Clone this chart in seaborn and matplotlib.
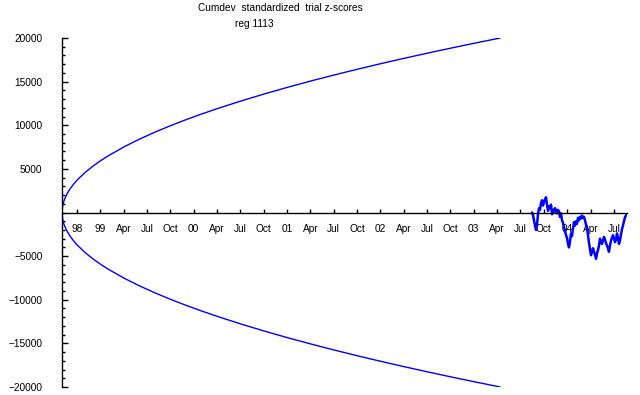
import numpy as np
import pandas as pd
import matplotlib
matplotlib.use("Agg")
import matplotlib.pyplot as plt
import seaborn as sns

# ---- data ----
# x axis: months since Oct 1998 (the "98" tick)
xtick_months = list(range(0, 70, 3))
xtick_labels = ["98", "99", "Apr", "Jul", "Oct", "00", "Apr", "Jul", "Oct",
                "01", "Apr", "Jul", "Oct", "02", "Apr", "Jul", "Oct",
                "03", "Apr", "Jul", "Oct", "04", "Apr", "Jul"]

ytick_values = [-20000, -15000, -10000, -5000, 5000, 10000, 15000, 20000]
ytick_labels = ["−20000", "−15000", "−10000", "−5000", "5000", "10000", "15000", "20000"]

# probability envelope
env_month = [-1.93, -1.83, -1.63, -1.33, -0.93, -0.43, 0.07, 1.07, 2.07, 3.07,
             4.07, 6.07, 8.07, 10.07, 12.07, 14.07, 16.07, 18.07, 21.07, 24.07,
             27.07, 30.07, 33.07, 36.07, 39.07, 42.07, 45.07, 48.07, 51.07, 54.4]
env_upper = [0, 843, 1460, 2064, 2665, 3264, 3769, 4616, 5330, 5959,
             6527, 7537, 8427, 9231, 9971, 10659, 11306, 11917, 12780, 13588,
             14351, 15075, 15765, 16427, 17063, 17676, 18269, 18843, 19400, 20000]
env_lower = [0, -843, -1460, -2064, -2665, -3264, -3769, -4616, -5330, -5959,
             -6527, -7537, -8427, -9231, -9971, -10659, -11306, -11917, -12780, -13588,
             -14351, -15075, -15765, -16427, -17063, -17676, -18269, -18843, -19400, -20000]

# cumulative deviation trace (Sep 2003 - Aug 2004)
cum_start, cum_end = 58.48, 70.69
cumdev = [0, -300, -900, -1500, -2000, -1400, -200, 500, 300, 1100,
          1400, 800, 1200, 1500, 1750, 900, 200, 700, 500, 900,
          -200, 300, 100, 500, 200, -100, 300, 100, -500, -100,
          -900, -1200, -1700, -2100, -2600, -2900, -3600, -4000, -3300, -2400,
          -2700, -1800, -1100, -1500, -1000, -1300, -600, -900, -500, -700,
          -350, -600, -500, -900, -1400, -1800, -2600, -3500, -4200, -4900,
          -4500, -4100, -4500, -4800, -5300, -4700, -4300, -3800, -3000, -3400,
          -3600, -3200, -2800, -3100, -3500, -3800, -4100, -4500, -3800, -3200,
          -2900, -2600, -3000, -3400, -3100, -2400, -2900, -3600, -3200, -2500,
          -1900, -1500, -1000, -540, -340, -250]

# ---- plot ----
sns.set_theme(style="white")
plt.rcParams['font.family'] = ['Liberation Sans', 'DejaVu Sans']
plt.rcParams['text.color'] = 'black'
plt.rcParams['xtick.color'] = 'black'
plt.rcParams['ytick.color'] = 'black'
plt.rcParams['xtick.labelcolor'] = 'black'
plt.rcParams['ytick.labelcolor'] = 'black'

fig = plt.figure(figsize=(6.4, 3.95), dpi=100)
ax = fig.add_axes([62 / 640, 1 - 387 / 395, (627 - 62) / 640, (387 - 38) / 395])

blue = "#0000FF"
df_env = pd.DataFrame({"month": env_month, "upper": env_upper, "lower": env_lower})
sns.lineplot(data=df_env, x="month", y="upper", ax=ax, color=blue, lw=1.0,
             estimator=None, sort=False)
sns.lineplot(data=df_env, x="month", y="lower", ax=ax, color=blue, lw=1.0,
             estimator=None, sort=False)

df_cum = pd.DataFrame({"month": np.linspace(cum_start, cum_end, len(cumdev)),
                       "cumdev": cumdev})
sns.lineplot(data=df_cum, x="month", y="cumdev", ax=ax, color=blue, lw=1.8,
             estimator=None, sort=False)

ax.set_xlim(-1.93, 70.69)
ax.set_ylim(-20000, 20000)
ax.set_xlabel("")
ax.set_ylabel("")

for s in ["top", "right"]:
    ax.spines[s].set_visible(False)
ax.spines["bottom"].set_position(("data", 0))
for s in ["left", "bottom"]:
    ax.spines[s].set_color("black")
    ax.spines[s].set_linewidth(1.0)

ax.set_xticks(xtick_months)
ax.set_xticklabels(xtick_labels)
ax.set_yticks(ytick_values)
ax.set_yticklabels(ytick_labels)
ax.set_yticks(np.arange(-20000, 20001, 1000), minor=True)

ax.tick_params(axis="x", which="major", direction="in", length=3, width=1,
               color="black", labelcolor="black", labelsize=7.3, pad=8, bottom=True)
ax.tick_params(axis="y", which="major", direction="in", length=4, width=1,
               color="black", labelcolor="black", labelsize=7.3, pad=14, left=True)
ax.tick_params(axis="y", which="minor", direction="in", length=2, width=1,
               color="black", left=True)
ax.grid(False)
ax.set_facecolor("white")

fig.text(280 / 640, 1 - 8 / 395, "Cumdev  standardized  trial z-scores",
         ha="center", va="center", fontsize=7.3, color="black")
fig.text(254 / 640, 1 - 24 / 395, "reg 1113", ha="center", va="center",
         fontsize=7.3, color="black")

fig.savefig("out.png", dpi=100, facecolor="white")
